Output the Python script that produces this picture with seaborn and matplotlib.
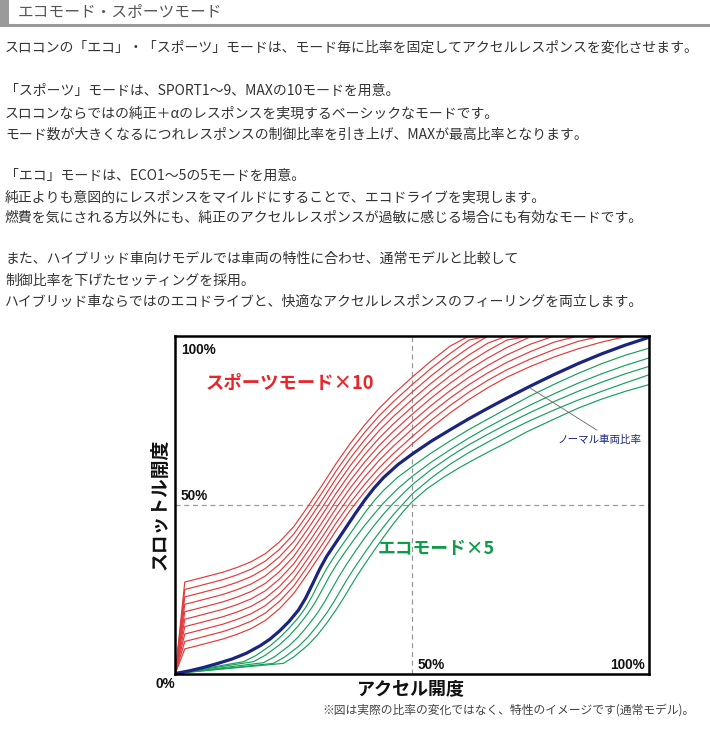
import matplotlib
matplotlib.use("Agg")
import matplotlib.pyplot as plt
import seaborn as sns

sns.set_theme(style="white")
plt.rcParams['font.family'] = ['Noto Sans CJK JP', 'DejaVu Sans']

# ---------------- data ----------------
title = "エコモード・スポーツモード"
paragraph_lines = [
    "スロコンの「エコ」・「スポーツ」モードは、モード毎に比率を固定してアクセルレスポンスを変化させます。",
    "「スポーツ」モードは、SPORT1～9、MAXの10モードを用意。",
    "スロコンならではの純正＋αのレスポンスを実現するベーシックなモードです。",
    "モード数が大きくなるにつれレスポンスの制御比率を引き上げ、MAXが最高比率となります。",
    "「エコ」モードは、ECO1～5の5モードを用意。",
    "純正よりも意図的にレスポンスをマイルドにすることで、エコドライブを実現します。",
    "燃費を気にされる方以外にも、純正のアクセルレスポンスが過敏に感じる場合にも有効なモードです。",
    "また、ハイブリッド車向けモデルでは車両の特性に合わせ、通常モデルと比較して",
    "制御比率を下げたセッティングを採用。",
    "ハイブリッド車ならではのエコドライブと、快適なアクセルレスポンスのフィーリングを両立します。",
]
paragraph_y = [48, 91, 113, 135, 176, 197, 218, 259, 281, 302]

# accelerator opening (%) for the sport curves
sport_x = [0, 2, 4, 7, 10, 13, 16, 19, 22, 25, 28, 31, 34, 37, 40, 43, 46, 50, 54, 58, 62, 66, 70, 75, 80, 85, 90, 95, 100]
sport1 = [0, 27.1, 27.8, 28.9, 30.0, 31.4, 33.1, 35.5, 39.0, 43.5, 49.5, 55.8, 62.3, 68.3, 73.7, 78.5, 82.7, 87.8, 92.6, 97.0, 100, 100, 100, 100, 100, 100, 100, 100, 100]
sport2 = [0, 24.9, 25.6, 26.7, 27.8, 29.2, 30.9, 33.3, 36.8, 41.3, 47.3, 53.6, 60.1, 66.1, 71.5, 76.3, 80.5, 85.6, 90.4, 94.8, 98.8, 100, 100, 100, 100, 100, 100, 100, 100]
sport3 = [0, 22.7, 23.4, 24.5, 25.6, 27.0, 28.7, 31.1, 34.6, 39.1, 45.1, 51.4, 57.9, 63.9, 69.3, 74.1, 78.3, 83.4, 88.2, 92.6, 96.6, 100, 100, 100, 100, 100, 100, 100, 100]
sport4 = [0, 20.5, 21.2, 22.3, 23.4, 24.8, 26.5, 28.9, 32.4, 36.9, 42.9, 49.2, 55.7, 61.7, 67.1, 71.9, 76.1, 81.2, 86.0, 90.4, 94.4, 97.9, 100, 100, 100, 100, 100, 100, 100]
sport5 = [0, 18.3, 19.0, 20.1, 21.2, 22.6, 24.3, 26.7, 30.2, 34.7, 40.7, 47.0, 53.5, 59.5, 64.9, 69.7, 73.9, 79.0, 83.8, 88.2, 92.2, 95.7, 98.8, 100, 100, 100, 100, 100, 100]
sport6 = [0, 16.1, 16.8, 17.9, 19.0, 20.4, 22.1, 24.5, 28.0, 32.5, 38.5, 44.8, 51.3, 57.3, 62.7, 67.5, 71.7, 76.8, 81.6, 86.0, 90.0, 93.5, 96.6, 99.8, 100, 100, 100, 100, 100]
sport7 = [0, 13.9, 14.6, 15.7, 16.8, 18.2, 19.9, 22.3, 25.8, 30.3, 36.3, 42.6, 49.1, 55.1, 60.5, 65.3, 69.5, 74.6, 79.4, 83.8, 87.8, 91.3, 94.4, 97.6, 100, 100, 100, 100, 100]
sport8 = [0, 11.7, 12.4, 13.5, 14.6, 16.0, 17.7, 20.1, 23.6, 28.1, 34.1, 40.4, 46.9, 52.9, 58.3, 63.1, 67.3, 72.4, 77.2, 81.6, 85.6, 89.1, 92.2, 95.4, 98.2, 100, 100, 100, 100]
sport9 = [0, 9.5, 10.2, 11.3, 12.4, 13.8, 15.5, 17.9, 21.4, 25.9, 31.9, 38.2, 44.7, 50.7, 56.1, 60.9, 65.1, 70.2, 75.0, 79.4, 83.4, 86.9, 90.0, 93.2, 96.0, 98.4, 100, 100, 100]
sport10 = [0, 7.3, 8.0, 9.1, 10.2, 11.6, 13.3, 15.7, 19.2, 23.7, 29.7, 36.0, 42.5, 48.5, 53.9, 58.7, 62.9, 68.0, 72.8, 77.2, 81.2, 84.7, 87.8, 91.0, 93.8, 96.2, 98.2, 99.8, 100]
sport_curves = [sport1, sport2, sport3, sport4, sport5, sport6, sport7, sport8, sport9, sport10]

normal_x = [0, 3, 6, 9, 12, 15, 18, 20, 22, 24, 26, 27.5, 29, 30.5, 32, 34, 36, 38, 40, 42, 44, 47, 50, 54, 58, 62, 66, 70, 75, 80, 85, 90, 95, 100]
normal_y = [0, 0.8, 1.8, 3.0, 4.3, 6.0, 8.3, 10.2, 12.6, 15.4, 18.8, 22.3, 26.6, 31.0, 34.8, 39.0, 43.2, 47.4, 51.4, 55.0, 58.1, 61.9, 65.0, 68.8, 72.2, 75.5, 78.6, 81.6, 85.2, 88.6, 91.8, 94.7, 97.3, 99.6]

eco1_x = [0, 14.4, 17, 20, 22, 24, 26, 27.5, 29, 30.5, 32, 34, 36, 38, 40, 42, 44, 47, 50, 54, 58, 62, 66, 70, 75, 80, 85, 90, 95, 100]
eco1_y = [0, 3.5, 5.3, 8.2, 10.6, 13.4, 16.6, 19.5, 23.2, 27.4, 31.2, 35.6, 39.6, 43.6, 47.6, 51.2, 54.3, 58.2, 61.3, 65.3, 68.9, 72.3, 75.4, 78.5, 82.3, 85.7, 88.9, 91.8, 94.3, 96.4]
eco2_x = [0, 16.5, 19, 22, 24, 26, 28, 29.5, 31, 32.5, 34, 36, 38, 40, 42, 44, 47, 50, 54, 58, 62, 66, 70, 75, 80, 85, 90, 95, 100]
eco2_y = [0, 3.5, 5.4, 8.5, 11.1, 14.2, 17.8, 21.0, 24.8, 28.7, 32.2, 36.3, 40.2, 43.9, 47.3, 50.6, 54.8, 58.4, 62.6, 66.3, 69.8, 73.0, 76.0, 79.6, 82.9, 86.0, 88.8, 91.3, 93.5]
eco3_x = [0, 18.6, 21, 24, 26, 28, 30, 31.5, 33, 34.5, 36, 38, 40, 42, 44, 46, 48, 50, 54, 58, 62, 66, 70, 75, 80, 85, 90, 95, 100]
eco3_y = [0, 3.2, 5.0, 8.2, 10.9, 14.2, 17.9, 21.2, 24.9, 28.6, 32.0, 36.2, 40.2, 43.9, 47.3, 50.4, 53.2, 55.9, 60.4, 64.3, 67.8, 70.9, 73.9, 77.4, 80.6, 83.6, 86.3, 88.8, 91.0]
eco4_x = [0, 20.7, 23, 26, 28, 30, 32, 33.5, 35, 36.5, 38, 40, 42, 44, 46, 48, 50, 54, 58, 62, 66, 70, 75, 80, 85, 90, 95, 100]
eco4_y = [0, 3.0, 4.8, 8.0, 10.8, 14.2, 18.0, 21.3, 24.9, 28.4, 31.7, 35.8, 39.8, 43.5, 47.0, 50.1, 53.2, 57.9, 62.0, 65.5, 68.6, 71.6, 75.0, 78.1, 81.0, 83.6, 86.1, 88.5]
eco5_x = [0, 22.8, 25, 28, 30, 32, 34, 35.5, 37, 38.5, 40, 42, 44, 46, 48, 50, 53, 56.6, 60, 63.6, 67, 70.5, 74.2, 80, 85, 90, 95, 100]
eco5_y = [0, 3.0, 4.9, 8.4, 11.4, 15.0, 19.0, 22.3, 25.8, 29.2, 32.4, 36.5, 40.5, 44.3, 47.8, 50.9, 54.6, 58.1, 61.0, 63.8, 66.3, 68.8, 71.6, 75.4, 78.6, 81.3, 83.6, 85.6]
eco_curves = [(eco1_x, eco1_y), (eco2_x, eco2_y), (eco3_x, eco3_y), (eco4_x, eco4_y), (eco5_x, eco5_y)]

# ---------------- figure ----------------
W, H = 710, 729
fig = plt.figure(figsize=(W / 100, H / 100), dpi=100)
fig.patch.set_facecolor("white")

def fx(px):
    return px / W

def fy(py):
    return 1 - py / H

# header
fig.patches.append(plt.Rectangle((0, fy(25)), fx(9), 25 / H, transform=fig.transFigure,
                                 facecolor="#9a9a9a", edgecolor="none"))
fig.add_artist(plt.Line2D([0, 1], [fy(25), fy(25)], transform=fig.transFigure,
                          color="#9a9a9a", lw=2.2))
fig.text(fx(18), fy(12.5), title, fontsize=11.3, color="#555555", va="center", ha="left")

for line, y in zip(paragraph_lines, paragraph_y):
    fig.text(fx(5), fy(y), line, fontsize=10.0, color="#333333", va="center", ha="left")

# chart axes
x0, x1, ytop, ybot = 175.3, 649, 336, 673.5
ax = fig.add_axes([fx(x0), fy(ybot), (x1 - x0) / W, (ybot - ytop) / H])
ax.set_xlim(0, 100)
ax.set_ylim(0, 100)

red = "#e23a3a"
green = "#17a05a"
navy = "#1b2580"

for ys in sport_curves:
    sns.lineplot(x=sport_x, y=ys, ax=ax, color=red, lw=0.85, sort=False, estimator=None)
for xs, ys in eco_curves:
    sns.lineplot(x=xs, y=ys, ax=ax, color=green, lw=0.85, sort=False, estimator=None)
sns.lineplot(x=normal_x, y=normal_y, ax=ax, color=navy, lw=2.3, sort=False, estimator=None)

ax.axvline(50, color="#9a9a9a", lw=0.9, ls=(0, (4, 3)), zorder=1)
ax.axhline(50, color="#9a9a9a", lw=0.9, ls=(0, (4, 3)), zorder=1)

for s in ax.spines.values():
    s.set_visible(True)
    s.set_color("black")
    s.set_linewidth(1.8)
ax.set_xticks([])
ax.set_yticks([])
ax.set_xlabel("")
ax.set_ylabel("")

pct_font = dict(family=["Liberation Sans", "DejaVu Sans"], fontweight="bold", fontsize=9.8, color="#111111")
ax.text(1.2, 95.8, "100%", ha="left", va="center", **pct_font)
ax.text(1.2, 52.6, "50%", ha="left", va="center", **pct_font)
ax.text(51.1, 2.6, "50%", ha="left", va="center", **pct_font)
ax.text(99.2, 2.6, "100%", ha="right", va="center", **pct_font)
ax.text(-0.022, -0.031, "0%", transform=ax.transAxes, ha="center", va="center", **pct_font)

ax.text(6.3, 85.8, "スポーツモード×10", color="#e8262a", fontsize=13.2, fontweight="bold",
        ha="left", va="center")
ax.text(42.8, 36.9, "エコモード×5", color="#0f9a48", fontsize=12.8, fontweight="bold",
        ha="left", va="center")

ax.plot([74.9, 89.0], [84.6, 72.1], color="#666666", lw=0.6)
ax.text(80.6, 69.2, "ノーマル車両比率", color=navy, fontsize=7.6, ha="left", va="center")

ax.text(0.4976, -0.046, "アクセル開度", transform=ax.transAxes, ha="center", va="center",
        fontsize=13, fontweight="bold", color="#111111")
ax.text(-0.032, 0.5, "スロットル開度", transform=ax.transAxes, ha="center", va="center",
        rotation=90, fontsize=13.5, fontweight="bold", color="#111111")

fig.text(fx(695), fy(710), "※図は実際の比率の変化ではなく、特性のイメージです(通常モデル)。",
         ha="right", va="center", fontsize=8.5, color="#444444")

fig.savefig("out.png", dpi=100, facecolor="white")
